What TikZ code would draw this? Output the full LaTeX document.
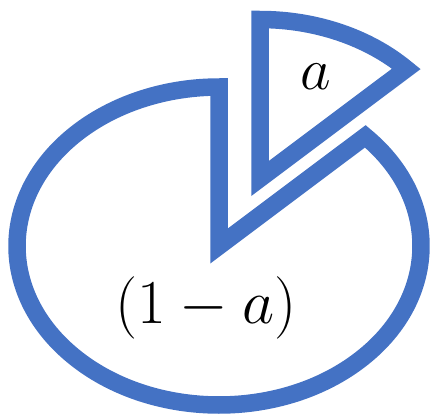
\documentclass[tikz,border=0pt]{standalone}
\usepackage{tikz}
\definecolor{pieblue}{HTML}{4472C4}
\tikzset{slice/.style={draw=pieblue, line width=0.35cm, line join=miter, miter limit=10},
  share/.style={font=\Huge, scale=1.36, anchor=base, inner sep=0pt}}

\begin{document}
\begin{tikzpicture}
\useasboundingbox (0,0) rectangle (8.72,8.3);
% pie body, the slice taken out
\coordinate (o) at (4.38,3.38);
\draw[slice] (o) -- ++(43.6:4.04 and 3.18)
  arc[start angle=43.6, end angle=-270, x radius=4.04, y radius=3.18] -- cycle;

% slice a, pulled away from the body
\coordinate (o2) at (5.20,4.73);
\draw[slice] (o2) -- ++(90:4.04 and 3.18)
  arc[start angle=90, end angle=43.6, x radius=4.04, y radius=3.18] -- cycle;

% labels
\node[share, scale=1.05] (rest) at (4.12,1.84) {$(1-a)$};
\node[share] (part) at (6.32,6.52) {$a$};
\end{tikzpicture}
\end{document}
